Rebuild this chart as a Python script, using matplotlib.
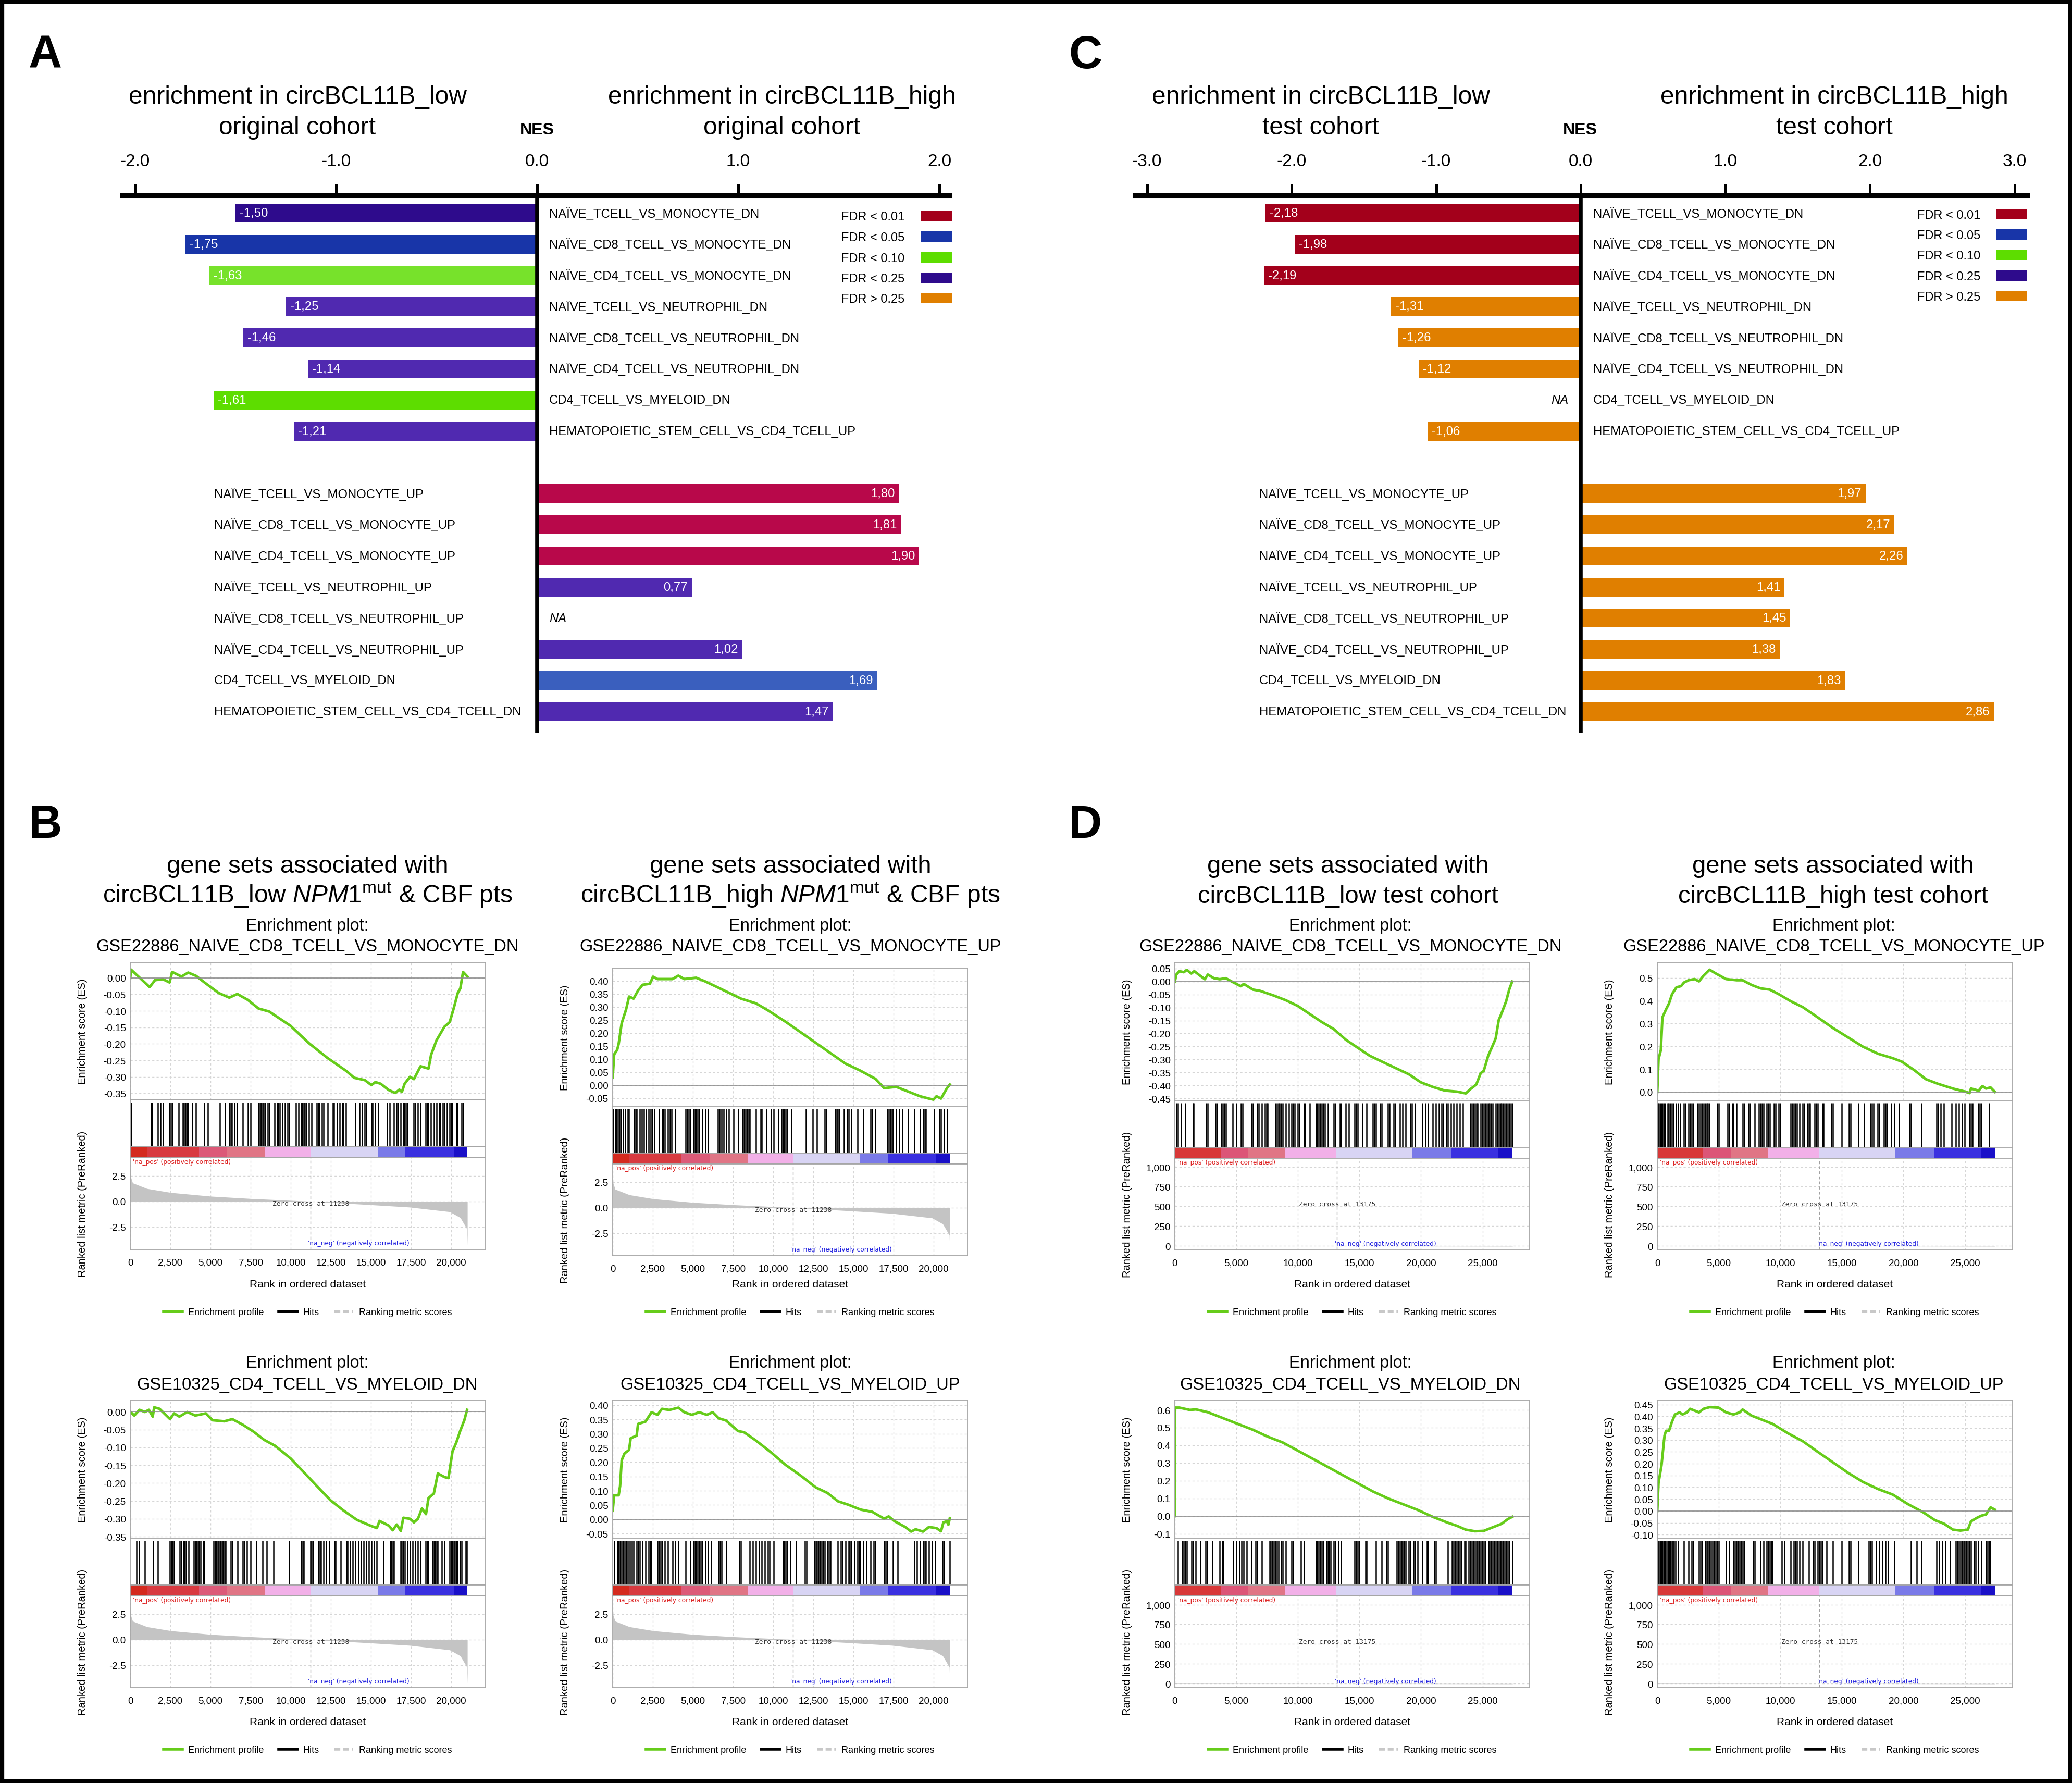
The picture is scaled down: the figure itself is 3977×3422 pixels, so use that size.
import matplotlib
matplotlib.use("Agg")
import numpy as np
import matplotlib.pyplot as plt
from matplotlib import font_manager
from matplotlib.patches import Rectangle
from matplotlib.lines import Line2D
from matplotlib.ticker import FuncFormatter

# ---------------- NES bar panels (A = original cohort, C = test cohort) ----------------
sets_dn = ["NAÏVE_TCELL_VS_MONOCYTE_DN", "NAÏVE_CD8_TCELL_VS_MONOCYTE_DN",
           "NAÏVE_CD4_TCELL_VS_MONOCYTE_DN", "NAÏVE_TCELL_VS_NEUTROPHIL_DN",
           "NAÏVE_CD8_TCELL_VS_NEUTROPHIL_DN", "NAÏVE_CD4_TCELL_VS_NEUTROPHIL_DN",
           "CD4_TCELL_VS_MYELOID_DN", "HEMATOPOIETIC_STEM_CELL_VS_CD4_TCELL_UP"]
sets_up = ["NAÏVE_TCELL_VS_MONOCYTE_UP", "NAÏVE_CD8_TCELL_VS_MONOCYTE_UP",
           "NAÏVE_CD4_TCELL_VS_MONOCYTE_UP", "NAÏVE_TCELL_VS_NEUTROPHIL_UP",
           "NAÏVE_CD8_TCELL_VS_NEUTROPHIL_UP", "NAÏVE_CD4_TCELL_VS_NEUTROPHIL_UP",
           "CD4_TCELL_VS_MYELOID_DN", "HEMATOPOIETIC_STEM_CELL_VS_CD4_TCELL_DN"]

nes_a_dn = [-1.50, -1.75, -1.63, -1.25, -1.46, -1.14, -1.61, -1.21]
nes_a_up = [1.80, 1.81, 1.90, 0.77, None, 1.02, 1.69, 1.47]
nes_c_dn = [-2.18, -1.98, -2.19, -1.31, -1.26, -1.12, None, -1.06]
nes_c_up = [1.97, 2.17, 2.26, 1.41, 1.45, 1.38, 1.83, 2.86]

col_a_dn = ["#2e0b8c", "#1835a8", "#77e22b", "#5029b0", "#5029b0", "#5029b0", "#5ddd00", "#5029b0"]
col_a_up = ["#b8084a", "#b8084a", "#b8084a", "#5029b0", None, "#5029b0", "#3a5fbe", "#5029b0"]
col_c_dn = ["#a3001b", "#a3001b", "#a3001b", "#e07f00", "#e07f00", "#e07f00", None, "#e07f00"]
col_c_up = ["#e07f00"] * 8

fdr_labels = ["FDR < 0.01", "FDR < 0.05", "FDR < 0.10", "FDR < 0.25", "FDR > 0.25"]
fdr_colors = ["#a3001b", "#1835a8", "#5ddd00", "#2e0b8c", "#e07f00"]

# ---------------- GSEA enrichment plots ----------------
# ranked list metric (original cohort) and its colour bar
metric_orig_rank = [0, 30, 150, 1040, 2530, 5000, 7500, 10000, 11238, 15000, 17400, 19900, 20560, 20970, 21000]
metric_orig_val = [3.4, 2.4, 1.8, 1.25, 0.86, 0.5, 0.27, 0.09, 0.0, -0.34, -0.57, -1.02, -1.6, -2.7, -4.3]
metric_test_rank = [0, 20, 13175, 27440]
metric_test_val = [60, 4, 0, -4]

cbar_orig_edges = [0, 1040, 4270, 6050, 8400, 11238, 15430, 17120, 20150, 21000]
cbar_orig_cols = ["#d42a1e", "#d83a40", "#dc5a78", "#e07585", "#f2b0e8", "#d8d4f4", "#7a7ae8", "#3a30e0", "#1a10c8"]
cbar_test_edges = [0, 3730, 5970, 8970, 13110, 19320, 22490, 26270, 27440]
cbar_test_cols = ["#d83838", "#dc5577", "#e07585", "#f2b0e8", "#d8d4f4", "#7a7ae8", "#3a30e0", "#1a10c8"]

# B, top left: GSE22886_NAIVE_CD8_TCELL_VS_MONOCYTE_DN (original cohort, low)
b1_rank = [0, 50, 1210, 1540, 2030, 2450, 2610, 3190, 3610, 4100, 4680, 5510, 6170, 6670, 7330, 7990,
           8650, 9975, 11130, 12290, 13450, 13950, 14610, 15020, 15270, 15600, 16100, 16510, 16760,
           16920, 17090, 17420, 17670, 18080, 18580, 18740, 19070, 19570, 19900, 20150, 20400, 20560,
           20730, 21000]
b1_es = [0.0, 0.025, -0.028, -0.007, -0.004, -0.014, 0.018, 0.004, 0.016, 0.006, -0.016, -0.046, -0.060,
         -0.049, -0.067, -0.093, -0.102, -0.145, -0.198, -0.243, -0.282, -0.303, -0.310, -0.325, -0.316,
         -0.321, -0.340, -0.349, -0.339, -0.346, -0.321, -0.300, -0.307, -0.268, -0.275, -0.233, -0.190,
         -0.148, -0.134, -0.092, -0.046, -0.032, 0.018, 0.004]
b1_hits = [50, 1290, 1373, 1704, 1869, 2034, 2448, 2531, 2613, 3027, 3275, 3358, 3440, 3523, 3606, 3854,
           4102, 4598, 4846, 5591, 5922, 6169, 6252, 6335, 6500, 6666, 6996, 7327, 7493, 7989, 8072, 8154,
           8237, 8320, 8402, 8568, 8650, 8981, 9147, 9229, 9312, 9477, 9643, 9808, 9891, 10304, 10470,
           10635, 10718, 10801, 10883, 10966, 11131, 11297, 11628, 11710, 11793, 11958, 12041, 12289,
           12620, 12703, 12868, 13034, 13199, 13282, 13447, 14026, 14274, 14440, 14605, 14688, 15019,
           15101, 15266, 15432, 16011, 16176, 16424, 16590, 16672, 16838, 17003, 17086, 17169, 17251,
           17665, 17748, 17913, 18078, 18409, 18492, 18574, 18740, 18905, 19071, 19236, 19319, 19484,
           19567, 19732, 19898, 19980, 20063, 20311, 20394, 20642, 20725]

# B, top right: GSE22886_NAIVE_CD8_TCELL_VS_MONOCYTE_UP (original cohort, high)
b2_rank = [0, 90, 280, 370, 560, 840, 1020, 1300, 1580, 1860, 2320, 2510, 2790, 3720, 4090, 4460, 5200,
           5760, 6510, 7250, 7990, 8920, 9670, 10780, 11710, 12640, 13570, 14500, 15430, 16360, 16910,
           17660, 18400, 19140, 19700, 19980, 20170, 20450, 20820, 21000]
b2_es = [0.029, 0.118, 0.136, 0.158, 0.238, 0.292, 0.340, 0.332, 0.363, 0.385, 0.389, 0.416, 0.407, 0.407,
         0.420, 0.407, 0.412, 0.398, 0.376, 0.354, 0.332, 0.314, 0.287, 0.243, 0.203, 0.163, 0.123, 0.083,
         0.056, 0.025, -0.011, -0.006, -0.024, -0.042, -0.051, -0.055, -0.042, -0.051, -0.011, 0.003]
b2_hits = [37, 149, 223, 335, 428, 521, 651, 781, 930, 1022, 1338, 1413, 1487, 1673, 1822, 1952, 2082,
           2231, 2380, 2472, 2603, 2881, 3067, 3160, 3253, 3439, 3569, 3681, 3904, 4555, 4648, 4740, 4833,
           5019, 5112, 5205, 5298, 5391, 5577, 5763, 5949, 6544, 6655, 6785, 6915, 7064, 7250, 7529, 7808,
           8087, 8180, 8273, 8366, 8458, 8551, 8923, 9202, 9295, 9574, 9853, 10039, 10317, 10503, 10596,
           10689, 10782, 10875, 11117, 12051, 12455, 12734, 13199, 13292, 13850, 13943, 14035, 14128,
           14407, 14593, 14686, 14872, 15244, 15616, 16080, 16173, 16359, 17103, 17196, 17289, 17382,
           17475, 17661, 17846, 18032, 18404, 18776, 19148, 19334, 19427, 19520, 20021, 20356, 20449,
           20635, 20821]

# B, bottom left: GSE10325_CD4_TCELL_VS_MYELOID_DN (original cohort, low)
b3_rank = [0, 250, 580, 910, 1160, 1400, 1490, 1820, 2480, 2730, 3060, 3550, 4050, 4710, 5120, 5860,
           6360, 7020, 7680, 8340, 9000, 9990, 10820, 11640, 12470, 13290, 14120, 14950, 15360, 15530,
           16100, 16350, 16600, 16850, 17010, 17430, 17670, 17920, 18170, 18420, 18580, 18910, 19160,
           19570, 19820, 20070, 20310, 20560, 20810, 20980]
b3_es = [0.0, -0.011, 0.005, -0.001, 0.005, -0.014, 0.012, 0.008, -0.021, -0.005, -0.014, -0.001, -0.011,
         -0.005, -0.024, -0.027, -0.021, -0.037, -0.056, -0.079, -0.095, -0.131, -0.170, -0.209, -0.248,
         -0.277, -0.303, -0.319, -0.326, -0.306, -0.319, -0.332, -0.316, -0.334, -0.297, -0.300, -0.310,
         -0.300, -0.271, -0.287, -0.242, -0.229, -0.173, -0.183, -0.186, -0.112, -0.086, -0.053, -0.024,
         0.005]
b3_hits = [380, 545, 908, 1436, 1734, 2477, 2559, 2642, 2724, 3087, 3186, 3302, 3385, 3467, 3632, 3962,
           4045, 4127, 4210, 4293, 4375, 4540, 4623, 5201, 5283, 5366, 5448, 5531, 5613, 5696, 5779, 5861,
           5944, 6274, 6357, 6687, 7017, 7099, 7264, 7512, 7842, 8255, 8503, 8915, 9906, 10649, 10732,
           10814, 11227, 11309, 11392, 11722, 11805, 11887, 12052, 12217, 12383, 12713, 12795, 13125,
           13456, 13538, 13703, 13868, 14034, 14199, 14364, 14529, 14694, 14859, 15024, 15189, 15354,
           15767, 16180, 16262, 16345, 16427, 16840, 16923, 17005, 17088, 17253, 17418, 17583, 17748,
           17913, 18078, 18409, 18491, 18574, 18821, 18904, 18987, 19069, 19152, 19399, 19564, 19895,
           19977, 20060, 20142, 20225, 20308, 20390, 20555, 20638, 20885, 20967]

# B, bottom right: GSE10325_CD4_TCELL_VS_MYELOID_UP (original cohort, high)
b4_rank = [0, 90, 370, 460, 560, 740, 1020, 1120, 1490, 1580, 2040, 2420, 2790, 3070, 3530, 4090, 4460,
           4930, 5390, 5860, 6230, 6600, 7060, 7810, 8180, 8920, 9850, 10780, 11710, 12640, 13380, 14030,
           14680, 15430, 16170, 16910, 17190, 17560, 18220, 18590, 18870, 19330, 19700, 20170, 20450,
           20600, 20820, 20910, 21000]
b4_es = [0.030, 0.084, 0.084, 0.116, 0.207, 0.231, 0.243, 0.284, 0.293, 0.334, 0.342, 0.375, 0.366,
         0.387, 0.383, 0.391, 0.375, 0.366, 0.375, 0.366, 0.375, 0.354, 0.346, 0.309, 0.305, 0.276, 0.235,
         0.190, 0.153, 0.112, 0.092, 0.063, 0.051, 0.034, 0.026, 0.002, 0.010, -0.007, -0.027, -0.043,
         -0.035, -0.043, -0.027, -0.031, -0.042, -0.011, -0.007, -0.019, 0.004]
b4_hits = [93, 279, 372, 465, 558, 651, 744, 837, 930, 1078, 1208, 1301, 1487, 1580, 1673, 1859, 2045,
           2231, 2324, 2417, 2789, 2881, 2974, 3067, 3253, 3439, 3718, 3904, 4090, 4555, 4833, 5019, 5112,
           5205, 5298, 5391, 5484, 5577, 5763, 5949, 6135, 6599, 6692, 6785, 7064, 7901, 7994, 8551, 8737,
           8923, 9109, 9295, 9481, 9667, 9760, 10039, 10596, 10689, 10782, 10875, 11061, 11433, 11991,
           12084, 12548, 12641, 12734, 12827, 12920, 13013, 13106, 13199, 13385, 13478, 13571, 14035,
           14221, 14314, 14500, 14686, 14779, 14872, 15058, 15244, 15337, 15430, 15616, 15802, 16080,
           16266, 16359, 16917, 17010, 17103, 17475, 17753, 18776, 18962, 19148, 19334, 19427, 19520,
           19706, 19892, 20078, 20543, 20636, 20990]

# D, top left: GSE22886_NAIVE_CD8_TCELL_VS_MONOCYTE_DN (test cohort, low)
d1_rank = [0, 120, 370, 730, 970, 1340, 1580, 2070, 2440, 2680, 3170, 3650, 4140, 4630, 5360, 5600, 6340,
           6940, 8040, 9020, 9990, 10960, 11940, 12910, 13890, 14860, 15840, 16810, 17790, 19010, 19980,
           20960, 21930, 22910, 23640, 24000, 24490, 24850, 25100, 25460, 25830, 26070, 26320, 26560,
           26920, 27170, 27410]
d1_es = [0.0, 0.027, 0.040, 0.036, 0.045, 0.031, 0.040, 0.022, 0.009, 0.027, 0.013, 0.009, 0.013, 0.0,
         -0.018, -0.009, -0.031, -0.036, -0.054, -0.072, -0.094, -0.125, -0.156, -0.183, -0.224, -0.255,
         -0.286, -0.308, -0.330, -0.357, -0.388, -0.406, -0.420, -0.424, -0.431, -0.415, -0.397, -0.353,
         -0.344, -0.286, -0.246, -0.219, -0.148, -0.121, -0.076, -0.031, 0.0]
d1_hits = [122, 244, 487, 853, 1462, 1535, 2559, 2681, 3290, 3412, 3777, 3899, 4021, 4143, 4679, 4996,
           5361, 5483, 6214, 6336, 6702, 6824, 7067, 7311, 7433, 7555, 8164, 8286, 8408, 8530, 8651, 8773,
           9017, 9261, 9504, 9626, 9748, 9992, 10114, 10479, 10601, 10967, 11454, 11576, 11698, 11819,
           11941, 12063, 12185, 12429, 12916, 13038, 13404, 13525, 13891, 14135, 14622, 14744, 14866,
           15231, 15597, 16084, 16206, 16328, 16693, 16815, 17303, 17425, 17790, 17912, 18278, 18521,
           18765, 19130, 19252, 19496, 20105, 20349, 20593, 20958, 21202, 21446, 21689, 21811, 22055,
           22177, 22420, 22664, 22908, 23152, 23395, 24005, 24126, 24248, 24370, 24492, 24614, 24857,
           24979, 25101, 25223, 25345, 25467, 25588, 25710, 25832, 26076, 26198, 26320, 26441, 26563,
           26685, 26807, 26929, 27051, 27173, 27295, 27417]

# D, top right: GSE22886_NAIVE_CD8_TCELL_VS_MONOCYTE_UP (test cohort, high)
d2_rank = [0, 100, 290, 415, 710, 950, 1200, 1560, 1930, 2170, 2540, 3030, 3390, 3760, 4250, 4740, 5590,
           6450, 6930, 7670, 8400, 9130, 9860, 10840, 11820, 13040, 14260, 15480, 16700, 17920, 19140,
           19870, 20850, 21830, 22800, 24020, 25000, 25370, 25490, 25850, 26100, 26420, 26710, 27080,
           27440]
d2_es = [0.0, 0.143, 0.184, 0.327, 0.362, 0.388, 0.429, 0.459, 0.464, 0.480, 0.490, 0.495, 0.485, 0.510,
         0.536, 0.520, 0.495, 0.490, 0.490, 0.469, 0.454, 0.449, 0.429, 0.398, 0.372, 0.327, 0.281, 0.240,
         0.199, 0.168, 0.148, 0.133, 0.097, 0.056, 0.036, 0.015, 0.002, -0.005, 0.015, 0.010, 0.005,
         0.026, 0.015, 0.020, 0.0]
d2_hits = [49, 146, 244, 342, 439, 537, 635, 830, 952, 1074, 1196, 1318, 1513, 1684, 1855, 2172, 2295,
           2539, 2661, 2783, 2905, 3271, 3393, 3515, 3637, 3759, 3881, 4003, 4125, 4247, 4858, 4980, 5712,
           5834, 6078, 6200, 6444, 6932, 7054, 7421, 7543, 7909, 8275, 8397, 8519, 8641, 8885, 9007, 9129,
           9495, 9618, 9862, 9984, 10838, 10960, 11082, 11204, 11326, 11570, 11814, 11936, 12181, 12303,
           12425, 12791, 12913, 13035, 13401, 13523, 14133, 14255, 14988, 15598, 15720, 16330, 16818,
           17307, 17429, 17551, 17917, 18039, 18405, 18527, 18649, 19015, 19260, 19626, 20480, 20602,
           21456, 22677, 22799, 23043, 23287, 23898, 24264, 24508, 24752, 24996, 25362, 25484, 25606,
           26094, 26216, 26338, 26948]

# D, bottom left: GSE10325_CD4_TCELL_VS_MYELOID_DN (test cohort, low)
d3_rank = [0, 0, 370, 1220, 1710, 2680, 3900, 5120, 6340, 7550, 8770, 9990, 11210, 12430, 13640, 14860,
           16080, 17300, 18520, 19740, 20960, 22170, 22900, 23630, 24370, 25100, 25830, 26560, 27050, 27410]
d3_es = [0.0, 0.613, 0.613, 0.600, 0.603, 0.587, 0.554, 0.521, 0.488, 0.449, 0.416, 0.370, 0.324, 0.278,
         0.232, 0.186, 0.140, 0.101, 0.068, 0.035, -0.004, -0.037, -0.054, -0.076, -0.085, -0.083, -0.063,
         -0.043, -0.017, -0.004]
d3_hits = [244, 609, 731, 853, 975, 1340, 1462, 1706, 2071, 2486, 2632, 3046, 3656, 3850, 3948, 4752, 4996,
           5240, 5410, 5605, 5849, 6214, 6580, 6702, 7067, 7725, 7798, 7920, 8042, 8164, 8286, 8408, 8651,
           8773, 9017, 9504, 9626, 10235, 10479, 11454, 11576, 11698, 11819, 11941, 12063, 12307, 12429,
           12551, 12672, 12916, 13038, 13282, 13525, 14622, 14744, 14866, 14988, 15475, 15597, 16328,
           16815, 17181, 17303, 18034, 18156, 18278, 18399, 18521, 18643, 18765, 19009, 19130, 19374,
           19496, 19740, 20105, 20471, 20593, 21080, 21202, 22177, 22542, 22664, 22786, 22908, 23030,
           23152, 23273, 23517, 23639, 23883, 24005, 24126, 24248, 24370, 24492, 24614, 24736, 24857,
           24979, 25101, 25223, 25467, 25588, 25710, 25832, 25954, 26076, 26198, 26320, 26441, 26563,
           26685, 26807, 26929, 27051, 27173, 27417]

# D, bottom right: GSE10325_CD4_TCELL_VS_MYELOID_UP (test cohort, high)
d4_rank = [0, 100, 340, 590, 710, 950, 1200, 1440, 1810, 2050, 2420, 2660, 3150, 3390, 3760, 4250, 4980,
           5590, 6200, 6690, 6930, 7670, 8400, 9380, 10600, 11820, 13040, 14260, 15480, 16700, 17920,
           19140, 20360, 21580, 22560, 23290, 24020, 24630, 25240, 25490, 25980, 26340, 26710, 27080, 27440]
d4_es = [0.0, 0.118, 0.192, 0.319, 0.339, 0.339, 0.378, 0.408, 0.417, 0.408, 0.417, 0.432, 0.422, 0.417,
         0.432, 0.439, 0.437, 0.417, 0.408, 0.417, 0.429, 0.403, 0.388, 0.368, 0.329, 0.295, 0.250, 0.206,
         0.162, 0.123, 0.093, 0.069, 0.029, -0.005, -0.039, -0.054, -0.079, -0.083, -0.079, -0.044,
         -0.029, -0.020, -0.015, 0.015, 0.005]
d4_hits = [49, 146, 244, 342, 439, 537, 635, 781, 879, 976, 1074, 1172, 1269, 1367, 1465, 1684, 2172,
           2539, 2783, 2905, 3393, 3515, 3637, 3881, 4003, 4125, 4247, 4369, 4491, 4613, 4736, 4858, 4980,
           5590, 5834, 6200, 6322, 6444, 6566, 6688, 6810, 6932, 7054, 7787, 7909, 8397, 8641, 8885, 9007,
           9129, 9251, 9373, 10106, 10350, 10838, 11082, 11204, 11326, 11570, 11814, 12303, 12669, 12791,
           13035, 13157, 13279, 13401, 13767, 14255, 14988, 15598, 15720, 16330, 17185, 17307, 17429,
           17795, 18039, 18283, 18527, 18771, 19260, 20602, 21090, 21456, 22677, 22921, 23165, 23409,
           23775, 24264, 24386, 24508, 24630, 24752, 24874, 24996, 25118, 25240, 25362, 25484, 25728,
           25850, 26094, 26338, 26704, 26826, 26948, 27070]

# ---------------- figure setup ----------------
W, H = 3977, 3423
plt.rcParams["font.family"] = "Liberation Sans"
plt.rcParams["axes.unicode_minus"] = False
plt.rcParams["mathtext.fontset"] = "custom"
plt.rcParams["mathtext.rm"] = "Liberation Sans"
plt.rcParams["mathtext.it"] = "Liberation Sans:italic"
plt.rcParams["mathtext.bf"] = "Liberation Sans:bold"

names = {f.name for f in font_manager.fontManager.ttflist}
if "Liberation Sans Narrow" in names:
    LAB_FONT, LAB_SIZE, NES_SIZE = "Liberation Sans Narrow", 21, 29
else:
    LAB_FONT, LAB_SIZE, NES_SIZE = "Liberation Sans", 17.2, 23

GREEN = "#66cc1a"
FRAME = "#a6a6a6"
GRID = dict(color="#d6d6d6", lw=1.0, ls=(0, (3, 3)))

fig = plt.figure(figsize=(W / 100, H / 100), dpi=100)


def px_rect(left, top, width, height):
    return [left / W, 1 - (top + height) / H, width / W, height / H]


def ftext(x, y, s, **kw):
    kw.setdefault("ha", "center")
    kw.setdefault("va", "baseline")
    fig.text(x / W, 1 - y / H, s, **kw)


def nes_panel(left, right, zero, unit, ticks, dn, dn_cols, up, up_cols, dn_lab, up_lab, na_pos,
              leg_text_x, leg_patch_x, leg_rows):
    ax = fig.add_axes(px_rect(left, 376, right - left, 1408 - 376))
    ax.set_xlim((left - zero) / unit, (right - zero) / unit)
    ax.set_ylim(16.69, -0.569)
    rows_dn = list(range(8))
    rows_up = list(range(9, 17))
    pad = 8 / unit
    for r, v, c in zip(rows_dn, dn, dn_cols):
        if v is None:
            continue
        ax.barh(r, v, height=0.6, color=c, lw=0)
        ax.text(v + pad, r, f"{v:.2f}".replace(".", ","), color="white", ha="left", va="center",
                family=LAB_FONT, size=LAB_SIZE)
    for r, v, c in zip(rows_up, up, up_cols):
        if v is None:
            continue
        ax.barh(r, v, height=0.6, color=c, lw=0)
        ax.text(v - pad, r, f"{v:.2f}".replace(".", ","), color="white", ha="right", va="center",
                family=LAB_FONT, size=LAB_SIZE)
    for r, s in zip(rows_dn, sets_dn):
        ax.text((dn_lab - zero) / unit, r, s, ha="left", va="center", family=LAB_FONT, size=LAB_SIZE)
    for r, s in zip(rows_up, sets_up):
        ax.text((up_lab - zero) / unit, r, s, ha="left", va="center", family=LAB_FONT, size=LAB_SIZE)
    na_x, na_row, na_ha = na_pos
    ax.text((na_x - zero) / unit, na_row, "NA", ha=na_ha, va="center", style="italic",
            family=LAB_FONT, size=LAB_SIZE)
    ax.axvline(0, color="black", lw=5.5, zorder=5)
    for side in ("left", "right", "bottom"):
        ax.spines[side].set_visible(False)
    ax.spines["top"].set_linewidth(6.5)
    ax.xaxis.tick_top()
    ax.set_xticks(ticks)
    ax.xaxis.set_major_formatter(FuncFormatter(lambda v, p: f"{v:.1f}"))
    ax.tick_params(axis="x", direction="out", length=16, width=3.6, pad=20, labelsize=24)
    ax.set_yticks([])
    # FDR legend
    for lab, col, y in zip(fdr_labels, fdr_colors, leg_rows):
        ftext(leg_text_x, y + 8, lab, ha="left", size=17)
        fig.add_artist(Rectangle((leg_patch_x / W, 1 - (y + 10) / H), 59 / W, 20 / H,
                                 transform=fig.transFigure, color=col, lw=0))


def gsea_plot(left, top, xmax, es_rank, es_val, es_lim, es_ticks, es_fmt, hits, label_y,
              m_rank, m_val, m_lim, m_ticks, m_fmt, x_ticks, zero_cross, cb_edges, cb_cols):
    width, height = 681, 551
    h_es, h_hit, h_cb = 264, 90, 21
    h_m = height - h_es - h_hit - h_cb
    ax_es = fig.add_axes(px_rect(left, top, width, h_es))
    ax_hit = fig.add_axes(px_rect(left, top + h_es, width, h_hit))
    ax_cb = fig.add_axes(px_rect(left, top + h_es + h_hit, width, h_cb))
    ax_m = fig.add_axes(px_rect(left, top + h_es + h_hit + h_cb, width, h_m))
    for ax in (ax_es, ax_hit, ax_cb, ax_m):
        ax.set_xlim(0, xmax)
        for s in ax.spines.values():
            s.set_color(FRAME)
            s.set_linewidth(1.3)
        ax.tick_params(length=0, labelsize=13.5, pad=6)
    for ax in (ax_hit, ax_cb):
        ax.set_xticks([])
        ax.set_yticks([])
        ax.set_ylim(0, 1)

    ax_es.plot(es_rank, es_val, color=GREEN, lw=3.6, solid_joinstyle="round")
    ax_es.axhline(0, color="#8c8c8c", lw=1.2)
    ax_es.set_ylim(*es_lim)
    ax_es.set_yticks(es_ticks)
    ax_es.yaxis.set_major_formatter(FuncFormatter(lambda v, p: es_fmt.format(0.0 if abs(v) < 1e-9 else v)))
    ax_es.set_xticks(x_ticks)
    ax_es.set_xticklabels([])
    ax_es.grid(True, **GRID)
    ax_es.set_axisbelow(True)
    ax_es.set_ylabel("Enrichment score (ES)", fontsize=14.5)
    ax_es.yaxis.set_label_coords(-0.12, 0.5)

    ax_hit.vlines(hits, 0, 0.95, color="black", lw=1.8)
    for a, b, c in zip(cb_edges[:-1], cb_edges[1:], cb_cols):
        ax_cb.axvspan(a, b, color=c, lw=0)

    ax_m.fill_between(m_rank, m_val, 0, color="#c4c4c4", lw=0)
    ax_m.set_ylim(*m_lim)
    ax_m.set_yticks(m_ticks)
    ax_m.yaxis.set_major_formatter(FuncFormatter(lambda v, p: m_fmt.format(0.0 if abs(v) < 1e-9 else v)))
    ax_m.set_xticks(x_ticks)
    ax_m.xaxis.set_major_formatter(FuncFormatter(lambda v, p: f"{int(round(v)):,}"))
    ax_m.tick_params(axis="x", pad=12)
    ax_m.grid(True, **GRID)
    ax_m.set_axisbelow(True)
    ax_m.axvline(zero_cross, color="#a0a0a0", lw=1.0, ls=(0, (4, 3)))
    ax_m.set_ylabel("Ranked list metric (PreRanked)", fontsize=14.5)
    ax_m.yaxis.set_label_coords(-0.12, 0.5)
    tr = ax_m.get_xaxis_transform()
    ax_m.text(xmax * 0.008, 0.955, "'na_pos' (positively correlated)", transform=tr, color="#dd1c1c",
              family="DejaVu Sans", size=8.8, va="center")
    ax_m.text(zero_cross * 0.985, 0.07, "'na_neg' (negatively correlated)", transform=tr, color="#2020e0",
              family="DejaVu Sans", size=8.8, va="center")
    zc_y = -0.22 if m_lim[1] < 100 else 530
    ax_m.text(zero_cross, zc_y, f"Zero cross at {zero_cross}", ha="center", va="center",
              family="DejaVu Sans Mono", size=9.3, color="#333333")

    cx = left + width / 2
    ftext(cx, label_y, "Rank in ordered dataset", size=15)
    handles = [Line2D([], [], color=GREEN, lw=4), Line2D([], [], color="black", lw=4),
               Line2D([], [], color="#c8c8c8", lw=4, ls=(0, (2, 1)))]
    fig.legend(handles, ["Enrichment profile", "Hits", "Ranking metric scores"], loc="center",
               bbox_to_anchor=(cx / W, 1 - (label_y + 49) / H), ncol=3, frameon=False,
               fontsize=13, handlelength=2.0, columnspacing=1.6, handletextpad=0.6)


# ---------------- panel A ----------------
ftext(87, 131, "A", size=64, weight="bold")
ftext(571, 199, "enrichment in circBCL11B_low", size=34.5)
ftext(571, 258, "original cohort", size=34.5)
ftext(1031, 258, "NES", size=NES_SIZE, weight="bold", family=LAB_FONT)
ftext(1501, 199, "enrichment in circBCL11B_high", size=34.5)
ftext(1501, 258, "original cohort", size=34.5)
nes_panel(235, 1823, 1031, 386, [-2, -1, 0, 1, 2], nes_a_dn, col_a_dn, nes_a_up, col_a_up,
          1054, 411, (1054, 13, "left"), 1615, 1768, [415, 455, 495, 534, 573])

# ---------------- panel C ----------------
ftext(2083, 131, "C", size=64, weight="bold")
ftext(2535, 199, "enrichment in circBCL11B_low", size=34.5)
ftext(2535, 258, "test cohort", size=34.5)
ftext(3033, 258, "NES", size=NES_SIZE, weight="bold", family=LAB_FONT)
ftext(3521, 199, "enrichment in circBCL11B_high", size=34.5)
ftext(3521, 258, "test cohort", size=34.5)
nes_panel(2178, 3891, 3034, 277.5, [-3, -2, -1, 0, 1, 2, 3], nes_c_dn, col_c_dn, nes_c_up, col_c_up,
          3058, 2417, (3010, 6, "right"), 3680, 3832, [412, 451, 490, 530, 569])

# ---------------- panel B ----------------
ftext(87, 1608, "B", size=64, weight="bold")
ftext(590, 1675, "gene sets associated with", size=34)
ftext(590, 1733, r"circBCL11B_low $\mathit{NPM1}^{\mathrm{mut}}$ & CBF pts", size=34.5)
ftext(1517, 1675, "gene sets associated with", size=34)
ftext(1517, 1733, r"circBCL11B_high $\mathit{NPM1}^{\mathrm{mut}}$ & CBF pts", size=34.5)

ES2 = "{:.2f}"
ES1 = "{:.1f}"
b_xt = list(range(0, 20001, 2500))
d_xt = list(range(0, 25001, 5000))
b_m = dict(m_rank=metric_orig_rank, m_val=metric_orig_val, m_lim=(-4.71, 4.27), m_ticks=[-2.5, 0, 2.5],
           m_fmt="{:.1f}", x_ticks=b_xt, zero_cross=11238, cb_edges=cbar_orig_edges, cb_cols=cbar_orig_cols)
d_m = dict(m_rank=metric_test_rank, m_val=metric_test_val, m_lim=(-51, 1109), m_ticks=[0, 250, 500, 750, 1000],
           m_fmt="{:,.0f}", x_ticks=d_xt, zero_cross=13175, cb_edges=cbar_test_edges, cb_cols=cbar_test_cols)

titles = [(590, "GSE22886_NAIVE_CD8_TCELL_VS_MONOCYTE_DN", 1786, 1826),
          (1517, "GSE22886_NAIVE_CD8_TCELL_VS_MONOCYTE_UP", 1786, 1826),
          (590, "GSE10325_CD4_TCELL_VS_MYELOID_DN", 2625, 2667),
          (1517, "GSE10325_CD4_TCELL_VS_MYELOID_UP", 2625, 2667),
          (2592, "GSE22886_NAIVE_CD8_TCELL_VS_MONOCYTE_DN", 1786, 1826),
          (3520, "GSE22886_NAIVE_CD8_TCELL_VS_MONOCYTE_UP", 1786, 1826),
          (2592, "GSE10325_CD4_TCELL_VS_MYELOID_DN", 2625, 2667),
          (3520, "GSE10325_CD4_TCELL_VS_MYELOID_UP", 2625, 2667)]
for cx, name, y1, y2 in titles:
    ftext(cx, y1, "Enrichment plot:", size=23.5)
    ftext(cx, y2, name, size=23.5)

TOP_LAB, LOW_LAB = 2471, 3311
gsea_plot(250, 1848, 22100, b1_rank, b1_es, (-0.37, 0.047), np.round(np.arange(-0.35, 0.001, 0.05), 2), ES2, b1_hits, TOP_LAB, **b_m)
gsea_plot(1176, 1860, 22100, b2_rank, b2_es, (-0.080, 0.447), np.round(np.arange(-0.05, 0.401, 0.05), 2), ES2, b2_hits, TOP_LAB, **b_m)
gsea_plot(250, 2689, 22100, b3_rank, b3_es, (-0.354, 0.031), np.round(np.arange(-0.35, 0.001, 0.05), 2), ES2, b3_hits, LOW_LAB, **b_m)
gsea_plot(1176, 2689, 22100, b4_rank, b4_es, (-0.066, 0.416), np.round(np.arange(-0.05, 0.401, 0.05), 2), ES2, b4_hits, LOW_LAB, **b_m)

# ---------------- panel D ----------------
ftext(2083, 1608, "D", size=64, weight="bold")
ftext(2587, 1675, "gene sets associated with", size=34)
ftext(2587, 1733, "circBCL11B_low test cohort", size=34)
ftext(3518, 1675, "gene sets associated with", size=34)
ftext(3518, 1733, "circBCL11B_high test cohort", size=34)

gsea_plot(2255, 1849, 28830, d1_rank, d1_es, (-0.458, 0.072), np.round(np.arange(-0.45, 0.051, 0.05), 2), ES2, d1_hits, TOP_LAB, **d_m)
gsea_plot(3181, 1849, 28830, d2_rank, d2_es, (-0.037, 0.566), np.round(np.arange(0.0, 0.501, 0.1), 1), ES1, d2_hits, TOP_LAB, **d_m)
gsea_plot(2255, 2689, 28830, d3_rank, d3_es, (-0.124, 0.653), np.round(np.arange(-0.1, 0.601, 0.1), 1), ES1, d3_hits, LOW_LAB, **d_m)
gsea_plot(3181, 2689, 28830, d4_rank, d4_es, (-0.115, 0.467), np.round(np.arange(-0.10, 0.451, 0.05), 2), ES2, d4_hits, LOW_LAB, **d_m)

# outer frame
fig.add_artist(Rectangle((0, 0), 1, 1, transform=fig.transFigure, fill=False, lw=11, ec="black"))

fig.savefig("out.png", dpi=100)
